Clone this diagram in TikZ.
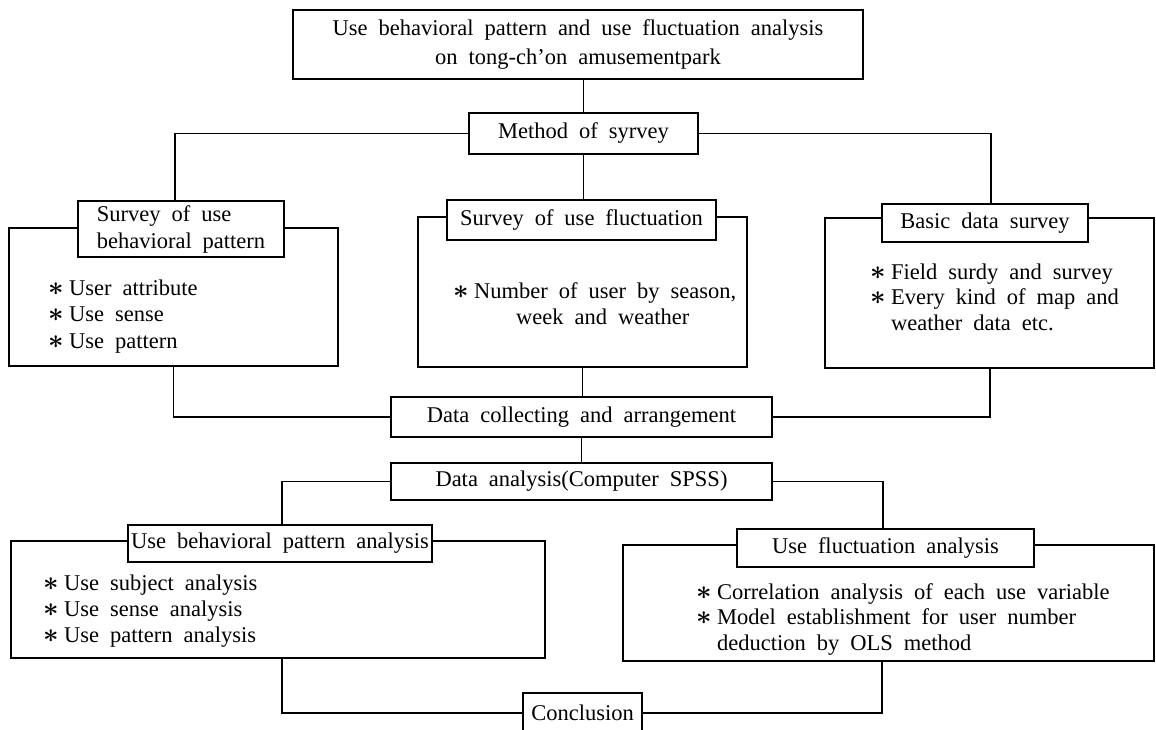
\documentclass[tikz,border=0pt]{standalone}
\usepackage{fontspec}
\setmainfont{Liberation Serif}
\newcommand\dfont{\fontsize{22.5}{27}\selectfont\spaceskip=11pt\relax}
\newcommand\bul{\makebox[21pt][l]{\raisebox{-0.5pt}{\scalebox{1.3}{\boldmath$\ast$}}}}
\begin{document}
\begin{tikzpicture}[x=1pt,y=-1pt,
  box/.style={draw, line width=1.5pt, inner sep=0pt, outer sep=0pt, font=\dfont, fill=white},
  outer/.style={draw, line width=1.5pt, inner sep=0pt, outer sep=0pt},
  itm/.style={font=\dfont, anchor=base west, inner sep=0pt},
  conn/.style={line width=1.5pt}]
\useasboundingbox[fill=white] (0,0) rectangle (1156,729);
% outer boxes
\node[outer, minimum width=329pt, minimum height=138pt] (out1) at (173.5,297) {};
\node[outer, minimum width=329pt, minimum height=150pt] (out2) at (582.5,292) {};
\node[outer, minimum width=329pt, minimum height=150pt] (out3) at (989.5,293) {};
\node[outer, minimum width=534pt, minimum height=117pt] (out4) at (278,599.5) {};
\node[outer, minimum width=531pt, minimum height=116pt] (out5) at (888.5,603) {};
% main boxes
\node[box, minimum width=570pt, minimum height=69pt, align=center] (title) at (578,44.5)
  {Use behavioral pattern and use fluctuation analysis\\[2pt]on tong-ch'on amusementpark};
\node[box, minimum width=229pt, minimum height=41pt] (method) at (583.5,133.5) {Method of syrvey};
\node[box, minimum width=381pt, minimum height=40pt] (collect) at (581.5,417) {Data collecting and arrangement};
\node[box, minimum width=381pt, minimum height=37pt] (analysis) at (581.5,481.5) {Data analysis(Computer SPSS)};
\node[box, minimum width=119pt, minimum height=40pt] (concl) at (582.5,713) {Conclusion};
% label boxes
\node[box, minimum width=206pt, minimum height=56pt, align=left] (lab1) at (181,229)
  {Survey of use\\[0pt]behavioral pattern};
\node[box, minimum width=269pt, minimum height=40pt] (lab2) at (581.5,220) {Survey of use fluctuation};
\node[box, minimum width=206pt, minimum height=38pt] (lab3) at (985,223) {Basic data survey};
\node[box, minimum width=304pt, minimum height=37pt] (lab4) at (280,543.5) {Use behavioral pattern analysis};
\node[box, minimum width=297pt, minimum height=38pt] (lab5) at (885.5,548) {Use fluctuation analysis};
% connectors
\draw[conn] (title.south -| method.north) -- (method.north);
\draw[conn] (method.west) -| ([xshift=-6pt]lab1.north);
\draw[conn] (method.south) -- (method.south |- lab2.north);
\draw[conn] (method.east) -| ([xshift=6pt]lab3.north);
\draw[conn] (out1.south) |- (collect.west);
\draw[conn] (out2.south) -- (out2.south |- collect.north);
\draw[conn] ([xshift=0.5pt]out3.south) |- (collect.east);
\draw[conn] (collect.south) -- (analysis.north);
\draw[conn] (analysis.west) -| ([xshift=2pt]lab4.north);
\draw[conn] (analysis.east) -| ([xshift=-2.5pt]lab5.north);
\draw[conn] ([xshift=4pt]out4.south) |- (concl.west);
\draw[conn] ([xshift=-6.5pt]out5.south) |- (concl.east);
% items
\node[itm] (i11) at (48,295) {\bul User attribute};
\node[itm] (i12) at (48,321) {\bul Use sense};
\node[itm] (i13) at (48,348) {\bul Use pattern};
\node[itm] (i21) at (453,298) {\bul Number of user by season,};
\node[itm] (i22) at (516,324) {week and weather};
\node[itm] (i31) at (870,279) {\bul Field surdy and survey};
\node[itm] (i32) at (870,304) {\bul Every kind of map and};
\node[itm] (i33) at (891,330) {weather data etc.};
\node[itm] (i41) at (43,590) {\bul Use subject analysis};
\node[itm] (i42) at (43,616) {\bul Use sense analysis};
\node[itm] (i43) at (43,642) {\bul Use pattern analysis};
\node[itm] (i51) at (696,599) {\bul Correlation analysis of each use variable};
\node[itm] (i52) at (696,624) {\bul Model establishment for user number};
\node[itm] (i53) at (717,650) {deduction by OLS method};
\end{tikzpicture}
\end{document}
